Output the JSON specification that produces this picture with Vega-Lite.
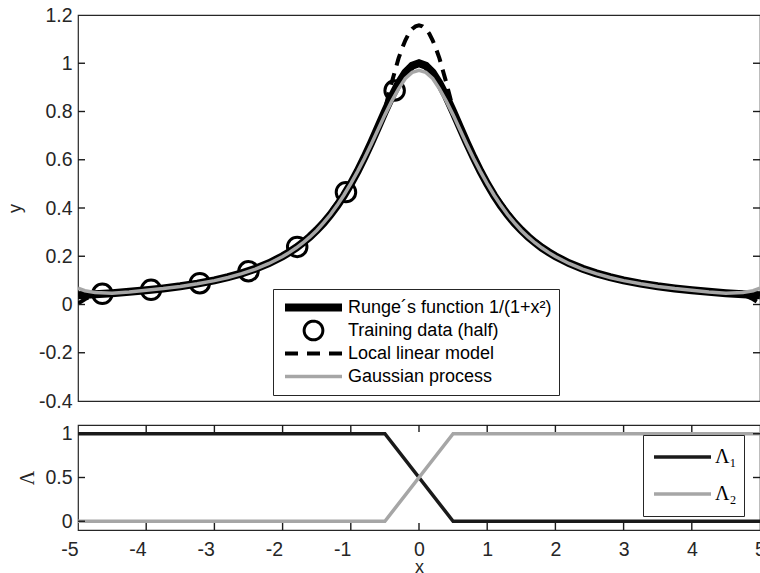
{
  "$schema": "https://vega.github.io/schema/vega-lite/v6.json",
  "background": "white",
  "padding": {"left": 5, "top": 4, "right": 0, "bottom": 0},
  "bounds": "flush",
  "spacing": 24,
  "config": {
    "font": "Liberation Sans",
    "view": {"stroke": "#262626", "strokeWidth": 1.2},
    "axis": {"grid": false, "domain": false, "ticks": false, "tickSize": 0, "labelFont": "Liberation Sans", "labelFontSize": 19.5, "labelColor": "#262626", "titleFont": "Liberation Sans", "titleFontSize": 18, "titleFontWeight": "normal", "titleColor": "#262626", "labelFlush": false, "labelOverlap": false}
  },
  "resolve": {"scale": {"color": "independent"}, "legend": {"color": "independent"}},
  "datasets": {
    "curves": [
      {"x": -5, "y": 0.0385, "s": "runge"}, {"x": -4.75, "y": 0.0424, "s": "runge"}, {"x": -4.5, "y": 0.0471, "s": "runge"}, {"x": -4.25, "y": 0.0525, "s": "runge"}, {"x": -4, "y": 0.0588, "s": "runge"}, {"x": -3.75, "y": 0.0664, "s": "runge"}, {"x": -3.5, "y": 0.0755, "s": "runge"}, {"x": -3.25, "y": 0.0865, "s": "runge"}, {"x": -3, "y": 0.1, "s": "runge"}, {"x": -2.8, "y": 0.1131, "s": "runge"}, {"x": -2.6, "y": 0.1289, "s": "runge"}, {"x": -2.4, "y": 0.1479, "s": "runge"}, {"x": -2.2, "y": 0.1712, "s": "runge"}, {"x": -2, "y": 0.2, "s": "runge"}, {"x": -1.9, "y": 0.2169, "s": "runge"}, {"x": -1.8, "y": 0.2358, "s": "runge"}, {"x": -1.7, "y": 0.2571, "s": "runge"}, {"x": -1.6, "y": 0.2809, "s": "runge"}, {"x": -1.5, "y": 0.3077, "s": "runge"}, {"x": -1.4, "y": 0.3378, "s": "runge"}, {"x": -1.3, "y": 0.3717, "s": "runge"}, {"x": -1.2, "y": 0.4098, "s": "runge"}, {"x": -1.1, "y": 0.4525, "s": "runge"}, {"x": -1, "y": 0.5, "s": "runge"}, {"x": -0.9, "y": 0.5525, "s": "runge"}, {"x": -0.8, "y": 0.6098, "s": "runge"}, {"x": -0.7, "y": 0.6711, "s": "runge"}, {"x": -0.6, "y": 0.7353, "s": "runge"}, {"x": -0.5, "y": 0.8, "s": "runge"}, {"x": -0.4, "y": 0.8621, "s": "runge"}, {"x": -0.3, "y": 0.9174, "s": "runge"}, {"x": -0.2, "y": 0.9615, "s": "runge"}, {"x": -0.1, "y": 0.9901, "s": "runge"}, {"x": 0, "y": 1, "s": "runge"}, {"x": 0.1, "y": 0.9901, "s": "runge"}, {"x": 0.2, "y": 0.9615, "s": "runge"}, {"x": 0.3, "y": 0.9174, "s": "runge"}, {"x": 0.4, "y": 0.8621, "s": "runge"}, {"x": 0.5, "y": 0.8, "s": "runge"}, {"x": 0.6, "y": 0.7353, "s": "runge"}, {"x": 0.7, "y": 0.6711, "s": "runge"}, {"x": 0.8, "y": 0.6098, "s": "runge"}, {"x": 0.9, "y": 0.5525, "s": "runge"}, {"x": 1, "y": 0.5, "s": "runge"}, {"x": 1.1, "y": 0.4525, "s": "runge"}, {"x": 1.2, "y": 0.4098, "s": "runge"}, {"x": 1.3, "y": 0.3717, "s": "runge"}, {"x": 1.4, "y": 0.3378, "s": "runge"}, {"x": 1.5, "y": 0.3077, "s": "runge"}, {"x": 1.6, "y": 0.2809, "s": "runge"}, {"x": 1.7, "y": 0.2571, "s": "runge"}, {"x": 1.8, "y": 0.2358, "s": "runge"}, {"x": 1.9, "y": 0.2169, "s": "runge"}, {"x": 2, "y": 0.2, "s": "runge"}, {"x": 2.2, "y": 0.1712, "s": "runge"}, {"x": 2.4, "y": 0.1479, "s": "runge"}, {"x": 2.6, "y": 0.1289, "s": "runge"}, {"x": 2.8, "y": 0.1131, "s": "runge"}, {"x": 3, "y": 0.1, "s": "runge"}, {"x": 3.25, "y": 0.0865, "s": "runge"}, {"x": 3.5, "y": 0.0755, "s": "runge"}, {"x": 3.75, "y": 0.0664, "s": "runge"}, {"x": 4, "y": 0.0588, "s": "runge"}, {"x": 4.25, "y": 0.0525, "s": "runge"}, {"x": 4.5, "y": 0.0471, "s": "runge"}, {"x": 4.75, "y": 0.0424, "s": "runge"}, {"x": 5, "y": 0.0385, "s": "runge"},

      {"x": -5, "y": 0.004, "s": "llm"}, {"x": -4.9, "y": 0.022, "s": "llm"}, {"x": -4.75, "y": 0.0424, "s": "llm"}, {"x": -4.5, "y": 0.0471, "s": "llm"}, {"x": -4, "y": 0.0588, "s": "llm"}, {"x": -3.5, "y": 0.0755, "s": "llm"}, {"x": -3, "y": 0.1, "s": "llm"}, {"x": -2.5, "y": 0.1379, "s": "llm"}, {"x": -2, "y": 0.2, "s": "llm"}, {"x": -1.5, "y": 0.3077, "s": "llm"}, {"x": -1, "y": 0.5, "s": "llm"}, {"x": -0.8, "y": 0.6098, "s": "llm"}, {"x": -0.6, "y": 0.7353, "s": "llm"}, {"x": -0.5, "y": 0.81, "s": "llm"}, {"x": -0.45, "y": 0.865, "s": "llm"}, {"x": -0.4, "y": 0.92, "s": "llm"}, {"x": -0.35, "y": 0.97, "s": "llm"}, {"x": -0.3, "y": 1.02, "s": "llm"}, {"x": -0.25, "y": 1.06, "s": "llm"}, {"x": -0.2, "y": 1.095, "s": "llm"}, {"x": -0.15, "y": 1.123, "s": "llm"}, {"x": -0.1, "y": 1.142, "s": "llm"}, {"x": -0.05, "y": 1.153, "s": "llm"}, {"x": 0, "y": 1.157, "s": "llm"}, {"x": 0.05, "y": 1.153, "s": "llm"}, {"x": 0.1, "y": 1.142, "s": "llm"}, {"x": 0.15, "y": 1.123, "s": "llm"}, {"x": 0.2, "y": 1.095, "s": "llm"}, {"x": 0.25, "y": 1.06, "s": "llm"}, {"x": 0.3, "y": 1.02, "s": "llm"}, {"x": 0.35, "y": 0.97, "s": "llm"}, {"x": 0.4, "y": 0.92, "s": "llm"}, {"x": 0.45, "y": 0.865, "s": "llm"}, {"x": 0.5, "y": 0.81, "s": "llm"}, {"x": 0.6, "y": 0.7353, "s": "llm"}, {"x": 0.8, "y": 0.6098, "s": "llm"}, {"x": 1, "y": 0.5, "s": "llm"}, {"x": 1.5, "y": 0.3077, "s": "llm"}, {"x": 2, "y": 0.2, "s": "llm"}, {"x": 2.5, "y": 0.1379, "s": "llm"}, {"x": 3, "y": 0.1, "s": "llm"}, {"x": 3.5, "y": 0.0755, "s": "llm"}, {"x": 4, "y": 0.0588, "s": "llm"}, {"x": 4.5, "y": 0.0471, "s": "llm"}, {"x": 4.75, "y": 0.0424, "s": "llm"}, {"x": 4.9, "y": 0.022, "s": "llm"}, {"x": 5, "y": 0.004, "s": "llm"},

      {"x": -5, "y": 0.068, "s": "gp"}, {"x": -4.9, "y": 0.057, "s": "gp"}, {"x": -4.75, "y": 0.05, "s": "gp"}, {"x": -4.5, "y": 0.047, "s": "gp"}, {"x": -4.25, "y": 0.052, "s": "gp"}, {"x": -4, "y": 0.059, "s": "gp"}, {"x": -3.75, "y": 0.066, "s": "gp"}, {"x": -3.5, "y": 0.075, "s": "gp"}, {"x": -3.25, "y": 0.086, "s": "gp"}, {"x": -3, "y": 0.099, "s": "gp"}, {"x": -2.8, "y": 0.112, "s": "gp"}, {"x": -2.6, "y": 0.128, "s": "gp"}, {"x": -2.4, "y": 0.147, "s": "gp"}, {"x": -2.2, "y": 0.17, "s": "gp"}, {"x": -2, "y": 0.199, "s": "gp"}, {"x": -1.9, "y": 0.216, "s": "gp"}, {"x": -1.8, "y": 0.235, "s": "gp"}, {"x": -1.7, "y": 0.256, "s": "gp"}, {"x": -1.6, "y": 0.28, "s": "gp"}, {"x": -1.5, "y": 0.307, "s": "gp"}, {"x": -1.4, "y": 0.338, "s": "gp"}, {"x": -1.3, "y": 0.372, "s": "gp"}, {"x": -1.2, "y": 0.411, "s": "gp"}, {"x": -1.1, "y": 0.454, "s": "gp"}, {"x": -1, "y": 0.501, "s": "gp"}, {"x": -0.9, "y": 0.552, "s": "gp"}, {"x": -0.8, "y": 0.606, "s": "gp"}, {"x": -0.7, "y": 0.664, "s": "gp"}, {"x": -0.6, "y": 0.725, "s": "gp"}, {"x": -0.5, "y": 0.786, "s": "gp"}, {"x": -0.4, "y": 0.843, "s": "gp"}, {"x": -0.3, "y": 0.894, "s": "gp"}, {"x": -0.2, "y": 0.937, "s": "gp"}, {"x": -0.1, "y": 0.962, "s": "gp"}, {"x": 0, "y": 0.971, "s": "gp"}, {"x": 0.1, "y": 0.962, "s": "gp"}, {"x": 0.2, "y": 0.937, "s": "gp"}, {"x": 0.3, "y": 0.894, "s": "gp"}, {"x": 0.4, "y": 0.843, "s": "gp"}, {"x": 0.5, "y": 0.786, "s": "gp"}, {"x": 0.6, "y": 0.725, "s": "gp"}, {"x": 0.7, "y": 0.664, "s": "gp"}, {"x": 0.8, "y": 0.606, "s": "gp"}, {"x": 0.9, "y": 0.552, "s": "gp"}, {"x": 1, "y": 0.501, "s": "gp"}, {"x": 1.1, "y": 0.454, "s": "gp"}, {"x": 1.2, "y": 0.411, "s": "gp"}, {"x": 1.3, "y": 0.372, "s": "gp"}, {"x": 1.4, "y": 0.338, "s": "gp"}, {"x": 1.5, "y": 0.307, "s": "gp"}, {"x": 1.6, "y": 0.28, "s": "gp"}, {"x": 1.7, "y": 0.256, "s": "gp"}, {"x": 1.8, "y": 0.235, "s": "gp"}, {"x": 1.9, "y": 0.216, "s": "gp"}, {"x": 2, "y": 0.199, "s": "gp"}, {"x": 2.2, "y": 0.17, "s": "gp"}, {"x": 2.4, "y": 0.147, "s": "gp"}, {"x": 2.6, "y": 0.128, "s": "gp"}, {"x": 2.8, "y": 0.112, "s": "gp"}, {"x": 3, "y": 0.099, "s": "gp"}, {"x": 3.25, "y": 0.086, "s": "gp"}, {"x": 3.5, "y": 0.075, "s": "gp"}, {"x": 3.75, "y": 0.066, "s": "gp"}, {"x": 4, "y": 0.059, "s": "gp"}, {"x": 4.25, "y": 0.052, "s": "gp"}, {"x": 4.5, "y": 0.047, "s": "gp"}, {"x": 4.75, "y": 0.05, "s": "gp"}, {"x": 4.9, "y": 0.057, "s": "gp"}, {"x": 5, "y": 0.068, "s": "gp"}
    ],
    "train": [
      {"x": -4.643, "y": 0.0443}, {"x": -3.929, "y": 0.0608}, {"x": -3.214, "y": 0.0883}, {"x": -2.5, "y": 0.1379}, {"x": -1.786, "y": 0.2387}, {"x": -1.071, "y": 0.4658}, {"x": -0.357, "y": 0.887}
    ],
    "lam": [
      {"x": -5, "v": 1, "l": "L1"}, {"x": -0.5, "v": 1, "l": "L1"}, {"x": 0.5, "v": 0, "l": "L1"}, {"x": 5, "v": 0, "l": "L1"},
      {"x": -5, "v": 0, "l": "L2"}, {"x": -0.5, "v": 0, "l": "L2"}, {"x": 0.5, "v": 1, "l": "L2"}, {"x": 5, "v": 1, "l": "L2"}
    ],
    "yticksTop": [{"y": -0.2}, {"y": 0}, {"y": 0.2}, {"y": 0.4}, {"y": 0.6}, {"y": 0.8}, {"y": 1}],
    "xticks": [{"x": -4}, {"x": -3}, {"x": -2}, {"x": -1}, {"x": 0}, {"x": 1}, {"x": 2}, {"x": 3}, {"x": 4}],
    "yticksBot": [{"v": 0}, {"v": 0.5}, {"v": 1}]
  },
  "vconcat": [
    {
      "width": 682,
      "height": 386,
      "resolve": {"axis": {"y": "independent", "x": "independent"}},
      "layer": [
        {
          "data": {"name": "curves"},
          "transform": [{"filter": "datum.s === 'runge'"}],
          "mark": {"type": "line", "strokeWidth": 8, "clip": true},
          "encoding": {
            "x": {"field": "x", "type": "quantitative", "scale": {"domain": [-5, 5], "nice": false, "zero": false}, "axis": null},
            "y": {"field": "y", "type": "quantitative", "scale": {"domain": [-0.4, 1.2], "nice": false, "zero": false},
                  "axis": {"orient": "left", "title": "y", "values": [-0.4, -0.2, 0, 0.2, 0.4, 0.6, 0.8, 1, 1.2], "labelExpr": "'' + datum.value", "labelPadding": 6, "minExtent": 40, "maxExtent": 40, "titlePadding": 18, "titleBaseline": "alphabetic"}},
            "color": {"field": "s", "type": "nominal",
                      "scale": {"domain": ["runge", "train", "llm", "gp"], "range": ["#000000", "#000000", "#000000", "#a6a6a6"]},
                      "legend": {"orient": "none", "legendX": 195, "legendY": 274, "title": null, "direction": "vertical",
                                 "strokeColor": "#262626", "fillColor": "#ffffff", "padding": 7,
                                 "symbolSize": 3249, "symbolType": "stroke", "symbolStrokeWidth": 3,
                                 "clipHeight": 23, "rowPadding": 0,
                                 "labelFont": "Liberation Sans", "labelFontSize": 18, "labelColor": "#000000", "labelLimit": 400,
                                 "labelExpr": "datum.value === 'runge' ? 'Runge´s function 1/(1+x²)' : datum.value === 'train' ? 'Training data (half)' : datum.value === 'llm' ? 'Local linear model' : 'Gaussian process'",
                                 "encode": {
                                   "symbols": {"update": {
                                     "x": {"value": 33.5},
                                     "shape": {"signal": "datum.index === 1 ? 'circle' : 'stroke'"},
                                     "size": {"signal": "datum.index === 1 ? 350 : 3249"},
                                     "strokeWidth": {"signal": "datum.index === 0 ? 8 : datum.index === 1 ? 3 : datum.index === 2 ? 4 : 3.5"},
                                     "strokeDash": {"signal": "datum.index === 2 ? [13, 9] : [1, 0]"},
                                     "stroke": {"signal": "datum.index === 3 ? '#a6a6a6' : '#000000'"},
                                     "fill": {"value": "transparent"},
                                     "opacity": {"value": 1}}},
                                   "labels": {"update": {"x": {"value": 68}}}}}}
          }
        },
        {
          "data": {"name": "train"},
          "mark": {"type": "point", "shape": "circle", "filled": false, "size": 380, "strokeWidth": 3, "opacity": 1, "color": "#000000"},
          "encoding": {
            "x": {"field": "x", "type": "quantitative", "axis": null},
            "y": {"field": "y", "type": "quantitative", "axis": null}
          }
        },
        {
          "data": {"name": "curves"},
          "transform": [{"filter": "datum.s === 'llm'"}],
          "mark": {"type": "line", "strokeWidth": 4, "strokeDash": [12, 8], "clip": true},
          "encoding": {
            "x": {"field": "x", "type": "quantitative", "axis": null},
            "y": {"field": "y", "type": "quantitative", "axis": null},
            "color": {"field": "s", "type": "nominal"}
          }
        },
        {
          "data": {"name": "curves"},
          "transform": [{"filter": "datum.s === 'gp'"}],
          "mark": {"type": "line", "strokeWidth": 3.5, "clip": true},
          "encoding": {
            "x": {"field": "x", "type": "quantitative", "axis": null},
            "y": {"field": "y", "type": "quantitative", "axis": null},
            "color": {"field": "s", "type": "nominal"}
          }
        },
        {
          "data": {"name": "yticksTop"},
          "mark": {"type": "rule", "color": "#1a1a1a", "strokeWidth": 1.4},
          "encoding": {
            "y": {"field": "y", "type": "quantitative", "axis": null},
            "x": {"datum": -5, "type": "quantitative", "axis": null},
            "x2": {"datum": -4.897}
          }
        },
        {
          "data": {"name": "yticksTop"},
          "mark": {"type": "rule", "color": "#1a1a1a", "strokeWidth": 1.4},
          "encoding": {
            "y": {"field": "y", "type": "quantitative", "axis": null},
            "x": {"datum": 4.897, "type": "quantitative", "axis": null},
            "x2": {"datum": 5}
          }
        }
      ]
    },
    {
      "width": 682,
      "height": 105,
      "resolve": {"axis": {"y": "independent", "x": "independent"}},
      "layer": [
        {
          "data": {"name": "lam"},
          "transform": [{"filter": "datum.l === 'L1'"}],
          "mark": {"type": "line", "strokeWidth": 3.5},
          "encoding": {
            "x": {"field": "x", "type": "quantitative", "scale": {"domain": [-5, 5], "nice": false, "zero": false},
                  "axis": {"orient": "bottom", "title": "x", "values": [-5, -4, -3, -2, -1, 0, 1, 2, 3, 4, 5], "labelExpr": "'' + datum.value", "labelPadding": 10, "titlePadding": 0,
                           "labelAlign": {"condition": {"test": "datum.value < 0", "value": "right"}, "value": "center"}}},
            "y": {"field": "v", "type": "quantitative", "scale": {"domain": [-0.1, 1.1], "nice": false, "zero": false},
                  "axis": {"orient": "left", "title": "Λ", "titleFont": "Liberation Serif", "titleFontSize": 20, "values": [0, 0.5, 1], "labelExpr": "'' + datum.value", "labelPadding": 6, "minExtent": 40, "maxExtent": 40, "titlePadding": 5, "titleBaseline": "alphabetic"}},
            "color": {"field": "l", "type": "nominal",
                      "scale": {"domain": ["L1", "L2"], "range": ["#1a1a1a", "#a6a6a6"]},
                      "legend": {"orient": "none", "legendX": 565, "legendY": 10, "title": null, "direction": "vertical",
                                 "strokeColor": "#262626", "fillColor": "#ffffff", "padding": 7,
                                 "symbolSize": 3249, "symbolType": "stroke", "symbolStrokeWidth": 3.5,
                                 "clipHeight": 30, "rowPadding": 7,
                                 "labelFont": "Liberation Serif", "labelFontSize": 20, "labelColor": "#000000",
                                 "labelExpr": "datum.value === 'L1' ? 'Λ₁' : 'Λ₂'",
                                 "encode": {
                                   "symbols": {"update": {"x": {"value": 32.5}, "strokeWidth": {"value": 3.5}, "opacity": {"value": 1}}},
                                   "labels": {"update": {"x": {"value": 65}}}}}}
          }
        },
        {
          "data": {"name": "lam"},
          "transform": [{"filter": "datum.l === 'L2'"}],
          "mark": {"type": "line", "strokeWidth": 3.5},
          "encoding": {
            "x": {"field": "x", "type": "quantitative", "axis": null},
            "y": {"field": "v", "type": "quantitative", "axis": null},
            "color": {"field": "l", "type": "nominal"}
          }
        },
        {
          "data": {"name": "xticks"},
          "mark": {"type": "rule", "color": "#1a1a1a", "strokeWidth": 1.4},
          "encoding": {
            "x": {"field": "x", "type": "quantitative", "axis": null},
            "y": {"datum": -0.1, "type": "quantitative", "axis": null},
            "y2": {"datum": -0.02}
          }
        },
        {
          "data": {"name": "xticks"},
          "mark": {"type": "rule", "color": "#1a1a1a", "strokeWidth": 1.4},
          "encoding": {
            "x": {"field": "x", "type": "quantitative", "axis": null},
            "y": {"datum": 1.02, "type": "quantitative", "axis": null},
            "y2": {"datum": 1.1}
          }
        },
        {
          "data": {"name": "yticksBot"},
          "mark": {"type": "rule", "color": "#1a1a1a", "strokeWidth": 1.4},
          "encoding": {
            "y": {"field": "v", "type": "quantitative", "axis": null},
            "x": {"datum": -5, "type": "quantitative", "axis": null},
            "x2": {"datum": -4.897}
          }
        },
        {
          "data": {"name": "yticksBot"},
          "mark": {"type": "rule", "color": "#1a1a1a", "strokeWidth": 1.4},
          "encoding": {
            "y": {"field": "v", "type": "quantitative", "axis": null},
            "x": {"datum": 4.897, "type": "quantitative", "axis": null},
            "x2": {"datum": 5}
          }
        }
      ]
    }
  ]
}
